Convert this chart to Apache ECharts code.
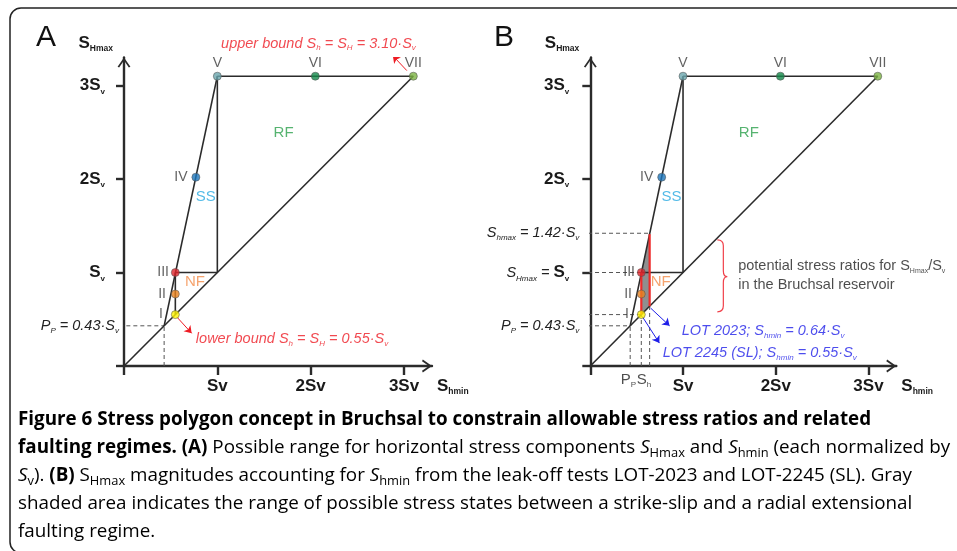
<!DOCTYPE html>
<html>
<head>
<meta charset="utf-8">
<title>Stress polygon Bruchsal</title>
<script src="https://cdn.jsdelivr.net/npm/echarts@6/dist/echarts.min.js"></script>
<style>
html, body { margin: 0; padding: 0; background: #fff; }
#chart { width: 957px; height: 551px; }
</style>
</head>
<body>
<div id="chart"></div>
<script>
// all stresses normalised by Sv
var ppRatio = 0.43;     // pore pressure
var shLower = 0.55;     // lower bound Sh = SH
var shUpper = 3.10;     // upper bound Sh = SH
var lot2023 = 0.64;
var lot2245 = 0.55;
var shmaxLot = 1.42;

var pointNames = ['I', 'II', 'III', 'IV', 'V', 'VI', 'VII'];
var pointShmin = [0.55, 0.55, 0.55, 0.77, 1.00, 2.05, 3.10];
var pointShmax = [0.55, 0.77, 1.00, 2.02, 3.10, 3.10, 3.10];

var tickValues = [1, 2, 3];
var xTickLabels = ['Sv', '2Sv', '3Sv'];
var yTickLabels = ['S_{v}', '2S_{v}', '3S_{v}'];

// polygon edges, [Shmin, SHmax]
var diagonal = [[0, 0], [3.10, 3.10]];
var topEdge = [[1.00, 3.10], [3.10, 3.10]];
var ssEdge = [[0.43, 0.43], [1.00, 3.10]];
var rfEdge = [[1.00, 1.00], [1.00, 3.10]];
var nfTop = [[0.55, 1.00], [1.00, 1.00]];
var nfLeft = [[0.55, 0.55], [0.55, 1.00]];
var lotEdge = [[0.64, 0.64], [0.64, 1.41]];
var shadedX = [0.55, 0.64, 0.64, 0.55];
var shadedY = [0.55, 0.64, 1.41, 0.99];

var FONT = 'Liberation Sans';
var INK = '#2b2b2b';
var ARROW = 'path://M7,0 L14,10 L12.3,10.9 L7,3.4 L1.7,10.9 L0,10 Z';
var pointColors = ['#fff200', '#e8821e', '#e0242b', '#1b75bc', '#6aa6ae', '#13884a', '#7cb342'];
var pointLabelPos = ['left', 'left', 'left', 'left', 'top', 'top', 'top'];
var pointLabelGap = [8, 5, 2, 4, 2, 2, 2];

// "S_{v}" -> rich tokens
function rt(str, base, sub) {
	return str.split(/(_\{[^}]*\})/).filter(Boolean).map(function(p) {
		if (p.charAt(0) === '_' && p.charAt(1) === '{') return '{' + sub + '|' + p.slice(2, -1) + '}';
		return '{' + base + '|' + p + '}';
	}).join('');
}

function tok(color, size, style, weight) {
	return { color: color, fontSize: size, fontStyle: style || 'normal', fontWeight: weight || 'normal', fontFamily: FONT, lineHeight: size + 5 };
}

function sub(color, size, style, weight) {
	return { color: color, fontSize: size, fontStyle: style || 'normal', fontWeight: weight || 'normal', fontFamily: FONT, verticalAlign: 'bottom', padding: [0, 0, 1, 0] };
}

var RICH = {
	rt: tok('#ee1c24', 14.5, 'italic'), rs: sub('#ee1c24', 8, 'italic'),
	bt: tok('#1f1fe8', 14.5, 'italic'), bs: sub('#1f1fe8', 8, 'italic'),
	kt: tok('#1e1e1e', 14.5), ks: sub('#1e1e1e', 7),
	ar: tok('#222', 15), ars: sub('#222', 8),
	rf: tok('#2ca04c', 15), ss: tok('#27a9e1', 15), nf: tok('#f28c4a', 15)
};

var AXRICH = {
	ab: tok('#1a1a1a', 17, 'normal', 'bold'), abs: sub('#1a1a1a', 8, 'normal', 'bold'),
	ai: tok('#222', 14.5, 'italic'), ais: sub('#222', 8, 'italic'),
	nb: tok('#1a1a1a', 17, 'normal', 'bold'), ns: sub('#1a1a1a', 8.5, 'normal', 'bold'),
	gapA: { width: 14 }, gapB: { width: 10 }
};

function xAxisFor(gi) {
	return {
		type: 'value', gridIndex: gi, min: 0, max: 3.3,
		splitLine: { show: false },
		axisLine: { lineStyle: { color: INK, width: 2.4 }, symbol: ['none', ARROW], symbolSize: [14, 10], symbolOffset: [0, -5] },
		axisTick: { length: 9, lineStyle: { color: INK, width: 2.4 }, customValues: [0].concat(tickValues) },
		axisLabel: {
			margin: 9, rich: AXRICH, customValues: tickValues,
			formatter: function(v) {
				return '{ab|' + xTickLabels[tickValues.indexOf(v)] + '}';
			}
		},
		name: rt('S_{hmin}', 'nb', 'ns'), nameLocation: 'end', nameGap: 5,
		nameTextStyle: { align: 'left', verticalAlign: 'top', padding: [9, 0, 0, 0], rich: AXRICH }
	};
}

function yAxisFor(gi) {
	var vals = gi === 0 ? [ppRatio].concat(tickValues) : [ppRatio, 1, shmaxLot, 2, 3];
	var gap = gi === 0 ? '{gapA|}' : '{gapB|}';
	return {
		type: 'value', gridIndex: gi, min: 0, max: 3.3,
		splitLine: { show: false },
		axisLine: { lineStyle: { color: INK, width: 2.4 }, symbol: ['none', ARROW], symbolSize: [14, 10], symbolOffset: [0, -5] },
		axisTick: { length: 8, lineStyle: { color: INK, width: 2.4 }, customValues: [0].concat(tickValues) },
		axisLabel: {
			margin: gi === 0 ? 5 : 11, rich: AXRICH, customValues: vals, hideOverlap: false,
			formatter: function(v) {
				if (v === ppRatio) return rt('P_{P} = ' + ppRatio.toFixed(2) + '·S_{v}', 'ai', 'ais');
				if (v === shmaxLot) return rt('S_{hmax} = ' + shmaxLot.toFixed(2) + '·S_{v}', 'ai', 'ais');
				var i = tickValues.indexOf(v);
				if (gi === 1 && v === 1) return rt('S_{Hmax} = ', 'ai', 'ais') + rt(yTickLabels[i], 'ab', 'abs') + gap;
				return rt(yTickLabels[i], 'ab', 'abs') + gap;
			}
		},
		name: rt('S_{Hmax}', 'nb', 'ns'), nameLocation: 'end', nameGap: 3,
		nameTextStyle: { align: 'right', padding: [0, 11, 0, 0], rich: AXRICH }
	};
}

function segment(data, gi, color, width, dashed, z) {
	return {
		type: 'line', xAxisIndex: gi, yAxisIndex: gi, data: data, symbol: 'none', clip: false, silent: true, z: z || 3,
		lineStyle: { color: color, width: width, type: dashed ? [4, 3] : 'solid' }
	};
}

function arrows(gi, list, color) {
	return {
		type: 'lines', coordinateSystem: 'cartesian2d', xAxisIndex: gi, yAxisIndex: gi, silent: true, z: 6,
		symbol: ['none', 'arrow'], symbolSize: 7,
		lineStyle: { color: color, width: 1, opacity: 1, curveness: 0 },
		data: list.map(function(c) { return { coords: c }; })
	};
}

// text anchored at a data point: 'c' centred, 'r' ends there, otherwise starts there
function texts(gi, items) {
	var pos = { c: 'inside', r: 'left' };
	return {
		type: 'scatter', xAxisIndex: gi, yAxisIndex: gi, symbolSize: 0, clip: false, silent: true, z: 12,
		itemStyle: { color: 'transparent' },
		label: { show: true, rich: RICH },
		data: items.map(function(it) {
			return { value: it[0], label: { show: true, position: pos[it[2]] || 'right', distance: 0, formatter: it[1] } };
		})
	};
}

function points(gi) {
	return {
		type: 'scatter', xAxisIndex: gi, yAxisIndex: gi, symbolSize: 8, clip: false, silent: true, z: 10,
		itemStyle: { borderColor: '#555', borderWidth: 0.7 },
		label: { show: true, color: '#3a3a3a', fontSize: 14, fontFamily: FONT },
		data: pointNames.map(function(n, i) {
			return {
				value: [pointShmin[i], pointShmax[i]], name: n,
				itemStyle: { color: pointColors[i] },
				label: { position: pointLabelPos[i], distance: pointLabelGap[i], formatter: n }
			};
		})
	};
}

function polygonSeries(gi) {
	return [
		segment(diagonal, gi, INK, 1.6),
		segment(topEdge, gi, INK, 1.6),
		segment(ssEdge, gi, INK, 1.6),
		segment(rfEdge, gi, INK, 1.6),
		segment(nfTop, gi, INK, 1.6),
		segment(nfLeft, gi, gi === 0 ? INK : '#ee2a2a', gi === 0 ? 1.6 : 2.2, false, 4)
	];
}

var regionLabels = [
	[[1.71, 2.49], '{rf|RF}', 'c'],
	[[0.876, 1.81], '{ss|SS}', 'c'],
	[[0.76, 0.90], '{nf|NF}', 'c']
];

var series = [];
series = series.concat(polygonSeries(0), polygonSeries(1));

// panel A guides
series.push(segment([[-0.05, ppRatio], [ppRatio, ppRatio]], 0, '#555', 1, true, 2));
series.push(segment([[ppRatio, 0], [ppRatio, ppRatio]], 0, '#555', 1, true, 2));

// panel B guides
[[ppRatio, ppRatio], [lot2245, lot2245], [lot2245, 1], [lot2023, shmaxLot]].forEach(function(p) {
	series.push(segment([[-0.1, p[1]], [p[0], p[1]]], 1, '#555', 1, true, 2));
});
[[ppRatio, ppRatio], [lot2245, lot2245], [lot2023, lot2023]].forEach(function(p) {
	series.push(segment([[p[0], 0], [p[0], p[1]]], 1, '#555', 1, true, 2));
});

// shaded range between SS and RF in panel B
series.push({
	type: 'custom', xAxisIndex: 1, yAxisIndex: 1, silent: true, z: 1, data: [[0, 0]],
	renderItem: function(params, api) {
		var pts = shadedX.map(function(x, i) { return api.coord([x, shadedY[i]]); });
		return { type: 'polygon', shape: { points: pts }, style: { fill: '#8f8f8f' } };
	}
});
series.push(segment(lotEdge, 1, '#ee2a2a', 2.2, false, 4));

// red brace
series.push({
	type: 'custom', xAxisIndex: 1, yAxisIndex: 1, silent: true, z: 5, data: [[0, 0]],
	renderItem: function(params, api) {
		var t = api.coord([1.37, 1.35]), m = api.coord([1.37, 0.955]), b = api.coord([1.37, 0.58]);
		var x0 = t[0], xs = x0 + 6, xt = x0 + 10, r = 6;
		var d = 'M' + x0 + ',' + t[1] + ' Q' + xs + ',' + t[1] + ' ' + xs + ',' + (t[1] + r) +
			' L' + xs + ',' + (m[1] - r) + ' Q' + xs + ',' + m[1] + ' ' + xt + ',' + m[1] +
			' Q' + xs + ',' + m[1] + ' ' + xs + ',' + (m[1] + r) +
			' L' + xs + ',' + (b[1] - r) + ' Q' + xs + ',' + b[1] + ' ' + x0 + ',' + b[1];
		return { type: 'path', shape: { pathData: d }, style: { stroke: '#f0404a', fill: null, lineWidth: 1.2 } };
	}
});

series.push(arrows(0, [[[0.57, 0.52], [0.725, 0.35]], [[3.03, 3.16], [2.88, 3.32]]], '#ee1c24'));
series.push(arrows(1, [[[0.65, 0.62], [0.855, 0.43]], [[0.56, 0.53], [0.745, 0.245]]], '#1f1fe8'));

series.push(points(0), points(1));

series.push(texts(0, regionLabels.concat([
	[[1.04, 3.45], rt('upper bound S_{h} = S_{H} = ' + shUpper.toFixed(2) + '·S_{v}', 'rt', 'rs')],
	[[0.77, 0.285], rt('lower bound S_{h} = S_{H} = ' + shLower.toFixed(2) + '·S_{v}', 'rt', 'rs')]
])));
series.push(texts(1, regionLabels.concat([
	[[0.986, 0.378], rt('LOT 2023; S_{hmin} = ' + lot2023.toFixed(2) + '·S_{v}', 'bt', 'bs')],
	[[0.78, 0.142], rt('LOT 2245 (SL); S_{hmin} = ' + lot2245.toFixed(2) + '·S_{v}', 'bt', 'bs')],
	[[1.595, 0.97], rt('potential stress ratios for S_{Hmax}/S_{v}', 'kt', 'ks') + '\n' + rt('in the Bruchsal reservoir', 'kt', 'ks')],
	[[0.495, -0.15], rt('P_{P}', 'ar', 'ars'), 'r'],
	[[0.5, -0.15], rt('S_{h}', 'ar', 'ars')]
])));

// caption
var CAP = '#231f20';
var capRich = {
	h: { fontFamily: 'Open Sans', fontWeight: 'bold', fontSize: 19, color: CAP, lineHeight: 23 },
	t: { fontFamily: 'Open Sans', fontSize: 19, color: CAP, lineHeight: 23 },
	ti: { fontFamily: 'Open Sans', fontStyle: 'italic', fontSize: 19, color: CAP, lineHeight: 23 },
	ts: { fontFamily: 'Open Sans', fontSize: 13, color: CAP, verticalAlign: 'bottom' }
};
var captionLines = [
	'{h|Figure 6 Stress polygon concept in Bruchsal to constrain allowable stress ratios and related}',
	'{h|faulting regimes. (A)}{t| Possible range for horizontal stress components }{ti|S}{ts|Hmax}{t| and }{ti|S}{ts|hmin}{t| (each normalized by}',
	'{ti|S}{ts|v}{t|). }{h|(B)}{t| S}{ts|Hmax}{t| magnitudes accounting for }{ti|S}{ts|hmin}{t| from the leak-off tests LOT-2023 and LOT-2245 (SL). Gray}',
	'{t|shaded area indicates the range of possible stress states between a strike-slip and a radial extensional}',
	'{t|faulting regime.}'
];
var captionY = [420, 448, 476, 504, 532];

var graphic = [
	{ type: 'rect', shape: { x: 10, y: 8, width: 1000, height: 545, r: 11 }, style: { fill: null, stroke: '#222', lineWidth: 1.5 }, silent: true },
	{ type: 'text', x: 46, y: 38, style: { text: 'A', font: '30px ' + FONT, fill: '#111', align: 'center', verticalAlign: 'middle' } },
	{ type: 'text', x: 504, y: 38, style: { text: 'B', font: '30px ' + FONT, fill: '#111', align: 'center', verticalAlign: 'middle' } }
];
captionLines.forEach(function(line, i) {
	graphic.push({ type: 'text', x: 18, y: captionY[i], scaleX: 0.99, style: { text: line, rich: capRich, verticalAlign: 'middle', align: 'left' } });
});

var myChart = echarts.init(document.getElementById('chart'));
myChart.setOption({
	animation: false,
	backgroundColor: '#fff',
	grid: [
		{ left: 124, top: 57.5, width: 308, height: 308.5 },
		{ left: 590.3, top: 57.5, width: 306, height: 308.5 }
	],
	xAxis: [xAxisFor(0), xAxisFor(1)],
	yAxis: [yAxisFor(0), yAxisFor(1)],
	series: series,
	graphic: graphic
});
</script>
</body>
</html>
